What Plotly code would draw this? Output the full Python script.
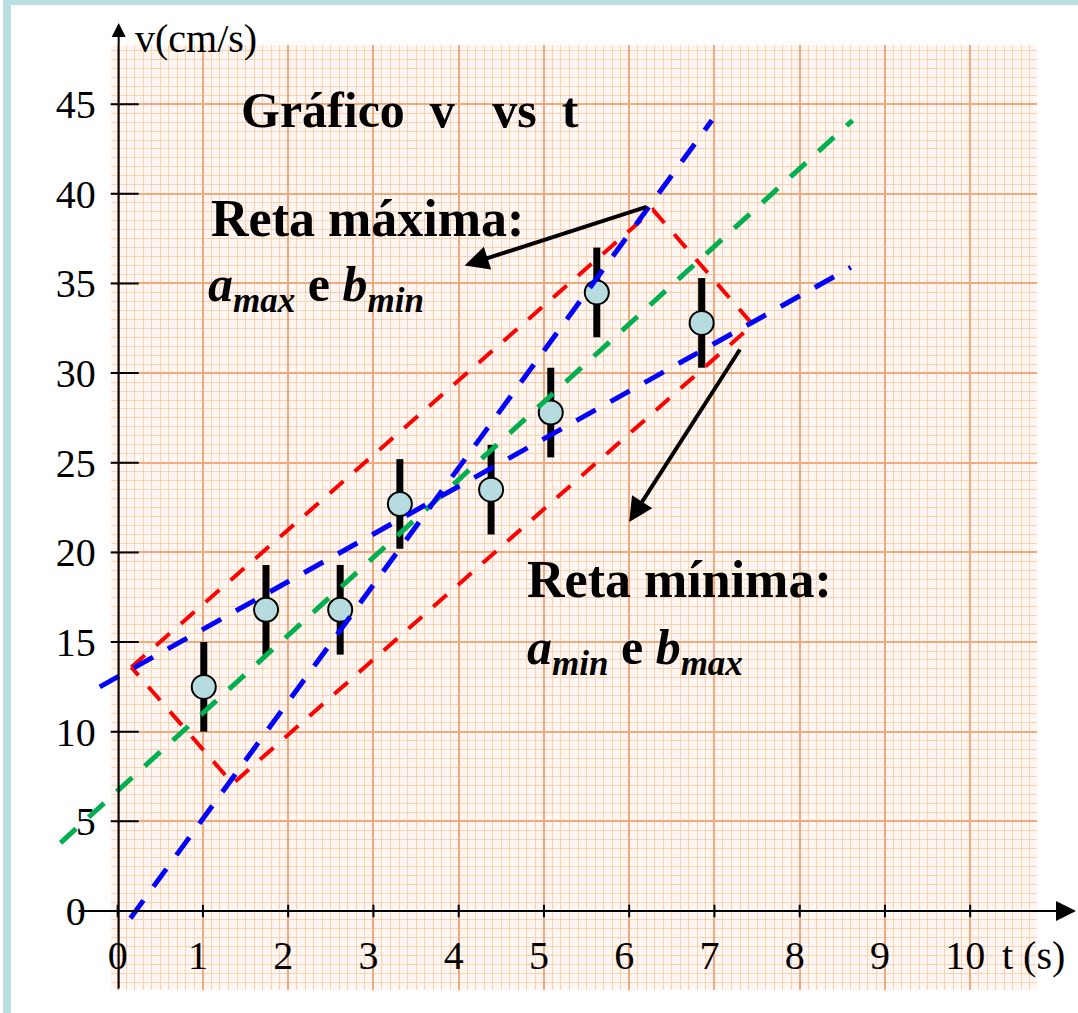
import plotly.graph_objects as go

W, H = 1078, 1013

# ---------------- data ----------------
t_pts = [1.01, 1.74, 2.61, 3.31, 4.38, 5.08, 5.62, 6.85]
v_pts = [12.5, 16.8, 16.8, 22.7, 23.5, 27.8, 34.5, 32.8]
v_err = [2.5, 2.5, 2.5, 2.5, 2.5, 2.5, 2.5, 2.5]

best_t = [-0.67, 8.62]          # green: best fit
best_v = [3.8, 44.1]
max_t = [0.15, 6.97]            # blue: a_max, b_min
max_v = [-0.4, 44.1]
min_t = [-0.21, 8.60]           # blue: a_min, b_max
min_v = [12.5, 35.9]
box_t = [0.16, 6.28, 7.45, 1.35, 0.16]   # red parallelogram
box_v = [13.6, 39.1, 32.7, 7.1, 13.6]

x_ticks = [0, 1, 2, 3, 4, 5, 6, 7, 8, 9, 10]
y_ticks = [0, 5, 10, 15, 20, 25, 30, 35, 40, 45]

arrow1_head = [4.07, 36.0]
arrow1_tail = [6.22, 39.3]
arrow2_head = [6.00, 21.7]
arrow2_tail = [7.31, 31.4]

# ---------------- layout geometry ----------------
X0PX, SX = 115.0, 85.49     # pixel of t=0, pixels per second
Y0PX, SY = 911.0, 17.93     # pixel of v=0, pixels per cm/s
PAPER_L, PAPER_R, PAPER_T, PAPER_B = 108, 1037, 45, 990


def px2t(px):
    return (px - X0PX) / SX


def py2v(py):
    return (Y0PX - py) / SY


def fx(px):
    return px / W


def fy(py):
    return (H - py) / H


FONT = "Liberation Serif, Times New Roman, serif"
FINE = "#f8d3b0"
MED = "#f5bf98"
MAJ = "#f2a97c"
NB = "\u00a0"

fig = go.Figure()

# tick marks (on the graph-paper subplot)
fig.add_trace(go.Scatter(
    x=x_ticks, y=[0] * len(x_ticks), mode="markers", xaxis="x", yaxis="y",
    marker=dict(symbol="line-ns", size=9, line=dict(width=2, color="black")),
    hoverinfo="skip"))
fig.add_trace(go.Scatter(
    x=[0] * len(y_ticks), y=y_ticks, mode="markers", xaxis="x", yaxis="y",
    marker=dict(symbol="line-ew", size=30, line=dict(width=2, color="black")),
    hoverinfo="skip"))

# data points with error bars
fig.add_trace(go.Scatter(
    x=t_pts, y=v_pts, mode="markers", xaxis="x2", yaxis="y2",
    error_y=dict(type="data", array=v_err, thickness=7, width=0, color="black"),
    marker=dict(size=24, color="#b6dcdf", line=dict(color="black", width=2))))

# dashed lines
fig.add_trace(go.Scatter(x=box_t, y=box_v, mode="lines", xaxis="x2", yaxis="y2",
                         line=dict(color="#ff0000", width=4, dash="18px,15px")))
fig.add_trace(go.Scatter(x=best_t, y=best_v, mode="lines", xaxis="x2", yaxis="y2",
                         line=dict(color="#00b050", width=5, dash="21px,17px")))
fig.add_trace(go.Scatter(x=max_t, y=max_v, mode="lines", xaxis="x2", yaxis="y2",
                         line=dict(color="#0000ff", width=5, dash="22px,17px")))
fig.add_trace(go.Scatter(x=min_t, y=min_v, mode="lines", xaxis="x2", yaxis="y2",
                         line=dict(color="#0000ff", width=5, dash="22px,17px")))

shapes = [
    # light blue frame
    dict(type="rect", xref="paper", yref="paper", x0=0, x1=fx(8), y0=0, y1=1,
         fillcolor="#b9dfe3", line=dict(width=0), layer="below"),
    dict(type="rect", xref="paper", yref="paper", x0=0, x1=1, y0=fy(5), y1=1,
         fillcolor="#b9dfe3", line=dict(width=0), layer="below"),
    # graph paper background
    dict(type="rect", xref="paper", yref="paper", x0=fx(PAPER_L), x1=fx(PAPER_R),
         y0=fy(PAPER_B), y1=fy(PAPER_T),
         fillcolor="#fff6f3", line=dict(width=0), layer="below"),
]

ann = []
# axes with arrows
ann.append(dict(xref="paper", yref="paper", x=fx(116), y=fy(23), axref="pixel", ayref="pixel",
                ax=0, ay=990 - 23, text="", showarrow=True, arrowhead=2, arrowsize=1.4,
                arrowwidth=2, arrowcolor="black"))
ann.append(dict(xref="paper", yref="paper", x=fx(1076), y=fy(Y0PX), axref="pixel", ayref="pixel",
                ax=77 - 1076, ay=0, text="", showarrow=True, arrowhead=2, arrowsize=2,
                arrowwidth=2, arrowcolor="black"))
# pointing arrows
for head, tail in [(arrow1_head, arrow1_tail), (arrow2_head, arrow2_tail)]:
    ann.append(dict(xref="x2", yref="y2", x=head[0], y=head[1], axref="x2", ayref="y2",
                    ax=tail[0], ay=tail[1], text="", showarrow=True, arrowhead=2,
                    arrowsize=1.2, arrowwidth=4, arrowcolor="black"))


def txt(s, px, py, size):
    return dict(xref="paper", yref="paper", x=fx(px), y=fy(py), text=s, showarrow=False,
                xanchor="left", yanchor="middle",
                font=dict(family=FONT, size=size, color="black"))


ann.append(txt("v(cm/s)", 130, 39, 40))
ann.append(txt("t (s)", 1000, 955, 40))
ann.append(txt("<b>Gráfico" + NB * 2 + "v" + NB * 3 + "vs" + NB * 2 + "t</b>", 237, 110, 50))
ann.append(txt("<b>Reta máxima:</b>", 207, 219, 52))
ann.append(txt("<b><i>a</i><sub><i>max</i></sub> e <i>b</i><sub><i>min</i></sub></b>", 204, 288, 50))
ann.append(txt("<b>Reta mínima:</b>", 523, 580, 52))
ann.append(txt("<b><i>a</i><sub><i>min</i></sub> e <i>b</i><sub><i>max</i></sub></b>", 523, 651, 50))

xdom = [fx(PAPER_L), fx(PAPER_R)]
ydom = [fy(PAPER_B), fy(PAPER_T)]
xr = [px2t(PAPER_L), px2t(PAPER_R)]
yr = [py2v(PAPER_B), py2v(PAPER_T)]

x_text = [str(v) if v == 0 else str(v) + NB for v in x_ticks]
y_text = [str(v) + NB if v == 0 else str(v) for v in y_ticks]

fig.update_layout(
    width=W, height=H, margin=dict(l=0, r=0, t=0, b=0),
    paper_bgcolor="white", plot_bgcolor="rgba(0,0,0,0)",
    showlegend=False, shapes=shapes, annotations=ann,
    xaxis=dict(domain=xdom, range=xr,
               anchor="free", position=fy(Y0PX), tickmode="array", tickvals=x_ticks,
               ticktext=x_text, ticks="", ticklabelstandoff=17,
               tickfont=dict(family=FONT, size=40, color="black"),
               showgrid=True, gridcolor=MAJ, gridwidth=2, zeroline=False, showline=False,
               minor=dict(dtick=0.1, tick0=0, showgrid=True, gridcolor=FINE, gridwidth=1, ticks="")),
    yaxis=dict(domain=ydom, range=yr,
               anchor="free", position=fx(X0PX), tickmode="array", tickvals=y_ticks,
               ticktext=y_text, ticks="", ticklabelstandoff=22,
               tickfont=dict(family=FONT, size=40, color="black"),
               showgrid=True, gridcolor=MAJ, gridwidth=2, zeroline=False, showline=False,
               minor=dict(dtick=0.5, tick0=0, showgrid=True, gridcolor=FINE, gridwidth=1, ticks="")),
    # medium graph-paper lines (half cells), drawn by an overlapping hidden subplot
    xaxis3=dict(domain=xdom, range=xr, anchor="y3", tick0=0.5, dtick=1, showticklabels=False,
                ticks="", showgrid=True, gridcolor=MED, gridwidth=1.5, zeroline=False, showline=False),
    yaxis3=dict(domain=ydom, range=yr, anchor="x3", tick0=2.5, dtick=5, showticklabels=False,
                ticks="", showgrid=True, gridcolor=MED, gridwidth=1.5, zeroline=False, showline=False),
    xaxis2=dict(domain=[0, 1], range=[px2t(0), px2t(W)], anchor="y2", visible=False),
    yaxis2=dict(domain=[0, 1], range=[py2v(H), py2v(0)], anchor="x2", visible=False),
)

fig.write_html("out.html", config={"displayModeBar": False},
               post_script="document.body.style.margin='0px';")
